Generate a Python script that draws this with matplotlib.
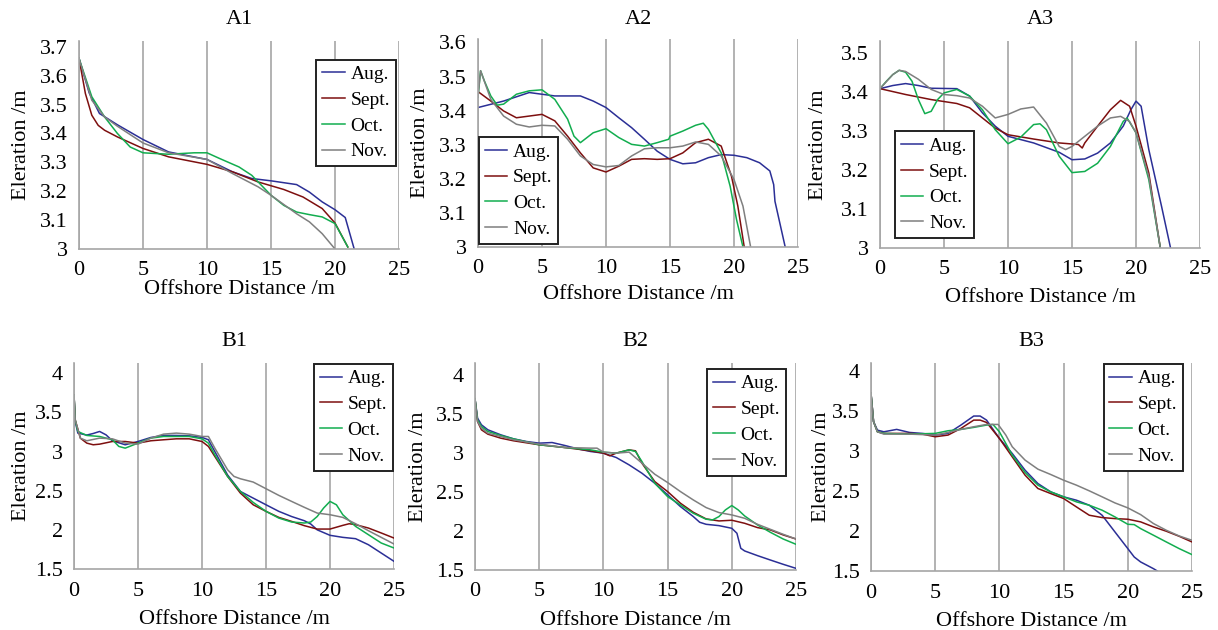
"""Seasonal beach profiles at six transects (A1-A3, B1-B3), Aug.-Nov."""
import matplotlib
matplotlib.use("Agg")
import matplotlib.pyplot as plt
from matplotlib.ticker import FuncFormatter

plt.rcParams["font.family"] = ["Liberation Serif", "DejaVu Serif"]
plt.rcParams["font.size"] = 16

MONTHS = ["Aug.", "Sept.", "Oct.", "Nov."]
COLORS = ["#2b2f96", "#7d0f0f", "#12ad4f", "#7f7f7f"]

# ---- A1 ----
a1_aug_x = [0, 0.8, 1.6, 3, 5, 7, 10, 12, 13.5, 15, 17, 18, 19, 20, 20.8, 21.5]
a1_aug_y = [3.66, 3.54, 3.469, 3.43, 3.379, 3.336, 3.31, 3.267, 3.244, 3.236, 3.223, 3.197, 3.163, 3.136, 3.109, 3.0]
a1_sep_x = [0, 0.5, 1, 1.5, 2, 3, 5, 7, 10, 12, 14, 16, 17.5, 19, 20, 21]
a1_sep_y = [3.66, 3.538, 3.463, 3.428, 3.411, 3.388, 3.348, 3.319, 3.293, 3.267, 3.232, 3.206, 3.18, 3.14, 3.09, 3.007]
a1_oct_x = [0, 1, 2, 3, 4, 5, 7, 9, 10, 11, 12.5, 13.5, 15, 16, 17, 18, 19, 20, 21]
a1_oct_y = [3.66, 3.527, 3.457, 3.4, 3.353, 3.333, 3.328, 3.333, 3.333, 3.313, 3.284, 3.255, 3.186, 3.151, 3.128, 3.119, 3.111, 3.088, 3.007]
a1_nov_x = [0, 1, 2, 3, 5, 7, 10, 12, 14, 15, 17, 18, 19, 20]
a1_nov_y = [3.66, 3.515, 3.457, 3.425, 3.367, 3.333, 3.31, 3.261, 3.215, 3.186, 3.122, 3.094, 3.053, 3.0]

# ---- A2 ----
a2_aug_x = [0, 2, 4, 5, 6, 8, 9, 10, 11, 12, 13, 14, 15, 16, 17, 18, 19, 20, 21, 22, 22.8, 23.1, 23.2, 24]
a2_aug_y = [3.409, 3.428, 3.453, 3.448, 3.443, 3.443, 3.428, 3.409, 3.379, 3.35, 3.316, 3.281, 3.257, 3.244, 3.247, 3.262, 3.271, 3.269, 3.262, 3.247, 3.223, 3.183, 3.134, 3.0]
a2_sep_x = [0.1, 1, 2, 3, 4, 5, 6, 7, 8, 9, 10, 11, 12, 13, 14, 15, 16, 17, 18, 19, 19.8, 20.3, 20.8]
a2_sep_y = [3.453, 3.428, 3.399, 3.379, 3.384, 3.389, 3.37, 3.325, 3.276, 3.232, 3.22, 3.237, 3.257, 3.259, 3.257, 3.259, 3.276, 3.306, 3.316, 3.296, 3.208, 3.12, 3.0]
a2_oct_x = [0, 0.2, 0.5, 1, 1.5, 2, 3, 4, 5, 6, 7, 7.5, 8, 9, 10, 11, 12, 13, 14, 14.9, 15, 16, 17, 17.6, 18, 19, 19.7, 20.2, 20.7]
a2_oct_y = [3.44, 3.517, 3.487, 3.443, 3.416, 3.419, 3.448, 3.458, 3.461, 3.433, 3.375, 3.325, 3.306, 3.335, 3.347, 3.321, 3.301, 3.296, 3.306, 3.316, 3.325, 3.34, 3.357, 3.363, 3.345, 3.276, 3.178, 3.08, 3.0]
a2_nov_x = [0, 0.2, 1, 2, 3, 4, 5, 6, 7, 8, 9, 10, 11, 12, 13, 14, 15, 16, 17, 18, 19, 20, 20.7, 21.3]
a2_nov_y = [3.44, 3.517, 3.433, 3.384, 3.36, 3.352, 3.357, 3.355, 3.316, 3.267, 3.242, 3.235, 3.239, 3.267, 3.288, 3.291, 3.291, 3.296, 3.308, 3.301, 3.267, 3.198, 3.12, 3.0]

# ---- A3 ----
a3_aug_x = [0, 1, 2, 3, 4, 6, 7, 8, 9, 10, 12, 14, 15, 16, 17, 18, 19, 19.6, 20, 20.4, 21, 22, 22.7]
a3_aug_y = [3.408, 3.416, 3.421, 3.416, 3.409, 3.408, 3.389, 3.346, 3.312, 3.286, 3.269, 3.245, 3.226, 3.228, 3.243, 3.269, 3.312, 3.354, 3.376, 3.363, 3.252, 3.106, 3.0]
a3_sep_x = [0, 2, 4, 6, 7, 8, 9, 10, 12, 14, 15.5, 15.8, 16, 17, 18, 18.8, 19.5, 20, 21, 21.9]
a3_sep_y = [3.408, 3.393, 3.38, 3.37, 3.359, 3.333, 3.307, 3.29, 3.279, 3.269, 3.265, 3.256, 3.269, 3.312, 3.354, 3.378, 3.363, 3.312, 3.192, 3.0]
a3_oct_x = [0, 0.5, 1, 1.5, 2, 2.5, 3, 3.5, 4, 4.5, 5, 6, 7, 8, 9, 10, 11, 12, 12.5, 13, 14, 15, 16, 17, 18, 19, 19.3, 20, 21, 21.9]
a3_oct_y = [3.408, 3.427, 3.444, 3.455, 3.45, 3.427, 3.38, 3.344, 3.35, 3.38, 3.397, 3.406, 3.389, 3.354, 3.303, 3.267, 3.284, 3.316, 3.318, 3.303, 3.235, 3.193, 3.196, 3.217, 3.26, 3.324, 3.333, 3.295, 3.175, 3.0]
a3_nov_x = [0, 1, 1.5, 2, 3, 4, 5, 6, 7, 8, 9, 10, 11, 12, 13, 14, 14.5, 15, 16, 17, 18, 18.8, 19.5, 20, 21, 21.9]
a3_nov_y = [3.408, 3.444, 3.455, 3.452, 3.432, 3.406, 3.393, 3.39, 3.384, 3.363, 3.333, 3.342, 3.356, 3.361, 3.32, 3.26, 3.252, 3.26, 3.286, 3.312, 3.333, 3.337, 3.324, 3.295, 3.183, 3.0]

# ---- B1 ----
b1_aug_x = [0, 0.1, 0.3, 1, 1.5, 2, 2.5, 3, 4, 5, 6, 7, 8, 9, 10, 10.5, 11, 12, 13, 14, 15, 16, 17, 18, 18.5, 19, 20, 21, 22, 23, 24, 25]
b1_aug_y = [3.72, 3.38, 3.235, 3.21, 3.23, 3.256, 3.213, 3.137, 3.086, 3.128, 3.179, 3.205, 3.205, 3.2, 3.18, 3.15, 3.0, 2.7, 2.49, 2.405, 2.32, 2.236, 2.17, 2.116, 2.074, 2.0, 1.93, 1.904, 1.887, 1.81, 1.704, 1.598]
b1_sep_x = [0, 0.1, 0.5, 1, 1.5, 2, 3, 4, 5, 6, 7, 8, 9, 10, 10.5, 11, 12, 13, 14, 15, 16, 17, 18, 19, 20, 21, 21.5, 22, 23, 24, 25]
b1_sep_y = [3.72, 3.4, 3.17, 3.107, 3.086, 3.094, 3.128, 3.128, 3.107, 3.137, 3.15, 3.162, 3.162, 3.128, 3.065, 2.937, 2.682, 2.469, 2.32, 2.236, 2.159, 2.108, 2.053, 2.01, 2.01, 2.057, 2.078, 2.066, 2.023, 1.96, 1.895]
b1_oct_x = [0, 0.1, 0.3, 1, 2, 3, 3.5, 4, 5, 6, 7, 8, 9, 10, 10.5, 11, 12, 13, 14, 15, 16, 17, 18, 18.5, 19, 19.5, 20, 20.5, 21, 22, 23, 24, 25]
b1_oct_y = [3.72, 3.4, 3.256, 3.205, 3.192, 3.15, 3.065, 3.043, 3.107, 3.171, 3.192, 3.192, 3.192, 3.162, 3.107, 2.958, 2.682, 2.49, 2.35, 2.236, 2.15, 2.1, 2.087, 2.1, 2.17, 2.278, 2.363, 2.32, 2.193, 2.044, 1.938, 1.832, 1.768]
b1_nov_x = [0, 0.1, 0.5, 1, 2, 3, 4, 5, 6, 7, 8, 9, 10, 10.5, 11, 12, 12.5, 13, 14, 15, 16, 17, 18, 19, 20, 21, 22, 23, 24, 25]
b1_nov_y = [3.72, 3.4, 3.17, 3.137, 3.171, 3.162, 3.107, 3.094, 3.171, 3.222, 3.235, 3.222, 3.192, 3.192, 3.043, 2.767, 2.682, 2.652, 2.61, 2.525, 2.44, 2.363, 2.287, 2.214, 2.193, 2.159, 2.078, 1.989, 1.904, 1.819]

# ---- B2 ----
b2_aug_x = [0, 0.2, 0.5, 1, 2, 3, 4, 5, 6, 7, 8, 9, 10, 11, 12, 13, 14, 15, 16, 17, 17.5, 18, 19, 20, 20.4, 20.7, 21, 22, 23, 24, 25]
b2_aug_y = [3.692, 3.444, 3.359, 3.295, 3.231, 3.179, 3.145, 3.124, 3.132, 3.094, 3.051, 3.017, 2.996, 2.94, 2.846, 2.739, 2.611, 2.462, 2.312, 2.184, 2.111, 2.085, 2.068, 2.034, 1.97, 1.778, 1.744, 1.684, 1.628, 1.573, 1.521]
b2_sep_x = [0, 0.2, 0.5, 1, 2, 3, 5, 7, 9, 10, 10.5, 11, 12, 12.5, 13, 14, 15, 16, 17, 18, 19, 20, 21, 22, 23, 24, 25]
b2_sep_y = [3.692, 3.4, 3.295, 3.239, 3.188, 3.154, 3.103, 3.068, 3.026, 2.996, 2.962, 2.996, 3.038, 3.026, 2.868, 2.632, 2.504, 2.355, 2.239, 2.154, 2.128, 2.137, 2.098, 2.043, 2.013, 1.949, 1.897]
b2_oct_x = [0, 0.2, 0.5, 1, 2, 3, 5, 7, 9, 10, 11, 11.5, 12, 12.5, 13, 14, 15, 16, 17, 18, 18.5, 19, 19.5, 20, 20.5, 21, 22, 23, 24, 25]
b2_oct_y = [3.692, 3.42, 3.338, 3.274, 3.222, 3.179, 3.103, 3.068, 3.038, 3.009, 2.996, 3.017, 3.038, 3.017, 2.889, 2.611, 2.44, 2.333, 2.226, 2.15, 2.141, 2.184, 2.269, 2.325, 2.269, 2.192, 2.077, 1.983, 1.897, 1.829]
b2_nov_x = [0, 0.2, 0.5, 1, 2, 3, 5, 7, 9, 9.5, 10, 11, 12, 13, 14, 15, 16, 17, 18, 19, 20, 21, 22, 23, 24, 25]
b2_nov_y = [3.692, 3.4, 3.316, 3.252, 3.209, 3.167, 3.111, 3.068, 3.06, 3.06, 3.009, 2.996, 3.009, 2.868, 2.726, 2.62, 2.504, 2.397, 2.299, 2.235, 2.205, 2.162, 2.085, 2.021, 1.957, 1.897]

# ---- B3 ----
b3_aug_x = [0, 0.2, 0.5, 1, 2, 3, 4, 5, 6, 7, 8, 8.5, 9, 10, 11, 12, 13, 14, 15, 16, 17, 18, 19, 20, 20.5, 21, 22, 22.3]
b3_aug_y = [3.72, 3.366, 3.261, 3.24, 3.27, 3.232, 3.22, 3.199, 3.22, 3.324, 3.437, 3.437, 3.386, 3.157, 2.969, 2.76, 2.593, 2.489, 2.427, 2.385, 2.322, 2.197, 1.988, 1.78, 1.675, 1.613, 1.529, 1.5]
b3_sep_x = [0, 0.2, 0.5, 1, 3, 4, 5, 6, 7, 8, 8.5, 9, 10, 11, 12, 13, 14, 15, 16, 17, 18, 19, 20, 21, 22, 23, 24, 25]
b3_sep_y = [3.72, 3.366, 3.24, 3.22, 3.22, 3.211, 3.178, 3.199, 3.282, 3.386, 3.386, 3.357, 3.157, 2.927, 2.698, 2.531, 2.468, 2.406, 2.301, 2.197, 2.168, 2.155, 2.147, 2.114, 2.051, 1.997, 1.934, 1.863]
b3_oct_x = [0, 0.2, 0.5, 1, 3, 5, 6, 7, 8, 9, 9.5, 10, 11, 12, 13, 14, 15, 16, 17, 18, 19, 20, 20.5, 21, 22, 23, 24, 25]
b3_oct_y = [3.72, 3.366, 3.24, 3.22, 3.211, 3.22, 3.253, 3.27, 3.295, 3.324, 3.332, 3.24, 2.948, 2.731, 2.573, 2.489, 2.427, 2.364, 2.322, 2.26, 2.176, 2.084, 2.08, 2.03, 1.947, 1.863, 1.78, 1.705]
b3_nov_x = [0, 0.2, 0.5, 1, 3, 5, 6, 7, 8, 9, 9.9, 10.5, 11, 12, 13, 14, 15, 16, 17, 18, 19, 20, 21, 22, 23, 24, 25]
b3_nov_y = [3.72, 3.366, 3.24, 3.211, 3.211, 3.199, 3.232, 3.27, 3.303, 3.332, 3.332, 3.199, 3.053, 2.886, 2.773, 2.706, 2.635, 2.573, 2.502, 2.427, 2.351, 2.289, 2.205, 2.093, 2.009, 1.938, 1.884]

W, H = 1218, 630
# name, series, (left, right, top, bottom) px, ylim, yticks, legend (loc, anchor),
# (ylabel x in axes coords, xlabel pad), title y px
PANELS = [
    ("A1", [(a1_aug_x, a1_aug_y), (a1_sep_x, a1_sep_y), (a1_oct_x, a1_oct_y), (a1_nov_x, a1_nov_y)],
     (79, 399, 41, 249), (3.0, 3.72), [3.0, 3.1, 3.2, 3.3, 3.4, 3.5, 3.6, 3.7],
     ("upper right", (0.99, 0.91)), (-0.15, 0), 20),
    ("A2", [(a2_aug_x, a2_aug_y), (a2_sep_x, a2_sep_y), (a2_oct_x, a2_oct_y), (a2_nov_x, a2_nov_y)],
     (478, 798, 39, 247), (3.0, 3.61), [3.0, 3.1, 3.2, 3.3, 3.4, 3.5, 3.6],
     ("lower left", (0.003, 0.015)), (-0.15, 5), 20),
    ("A3", [(a3_aug_x, a3_aug_y), (a3_sep_x, a3_sep_y), (a3_oct_x, a3_oct_y), (a3_nov_x, a3_nov_y)],
     (880, 1200, 41, 248), (3.0, 3.53), [3.0, 3.1, 3.2, 3.3, 3.4, 3.5],
     ("lower left", (0.047, 0.048)), (-0.1625, 6), 20),
    ("B1", [(b1_aug_x, b1_aug_y), (b1_sep_x, b1_sep_y), (b1_oct_x, b1_oct_y), (b1_nov_x, b1_nov_y)],
     (74, 394, 363, 569), (1.5, 4.13), [1.5, 2, 2.5, 3, 3.5, 4],
     ("upper right", (0.997, 0.995)), (-0.134, 7), 342),
    ("B2", [(b2_aug_x, b2_aug_y), (b2_sep_x, b2_sep_y), (b2_oct_x, b2_oct_y), (b2_nov_x, b2_nov_y)],
     (475, 796, 363, 570), (1.5, 4.15), [1.5, 2, 2.5, 3, 3.5, 4],
     ("upper right", (0.969, 0.971)), (-0.147, 7), 342),
    ("B3", [(b3_aug_x, b3_aug_y), (b3_sep_x, b3_sep_y), (b3_oct_x, b3_oct_y), (b3_nov_x, b3_nov_y)],
     (871, 1192, 363, 571), (1.5, 4.1), [1.5, 2, 2.5, 3, 3.5, 4],
     ("upper right", (0.972, 0.995)), (-0.125, 7), 342),
]

fig = plt.figure(figsize=(W / 100, H / 100), dpi=100)
for name, series, (l, r, t, b), ylim, yticks, (loc, anchor), (ylx, xpad), ty in PANELS:
    ax = fig.add_axes([l / W, 1 - b / H, (r - l) / W, (b - t) / H])
    for (x, y), c, m in zip(series, COLORS, MONTHS):
        ax.plot(x, y, color=c, lw=1.1, label=m)
    ax.set_xlim(0, 25)
    ax.set_ylim(*ylim)
    ax.set_xticks([0, 5, 10, 15, 20, 25])
    ax.set_yticks(yticks)
    ax.yaxis.set_major_formatter(FuncFormatter(lambda v, p: f"{v:g}"))
    ax.grid(axis="x", color="#a6a6a6", lw=1.2)
    ax.set_axisbelow(True)
    for s in ("top", "right"):
        ax.spines[s].set_visible(False)
    for s in ("left", "bottom"):
        ax.spines[s].set_color("#a6a6a6")
        ax.spines[s].set_linewidth(1.2)
    ax.tick_params(axis="x", length=0, labelsize=16, pad=9)
    ax.tick_params(axis="y", length=0, labelsize=16, pad=8)
    ax.set_xlabel("Offshore Distance /m", fontsize=16, labelpad=xpad)
    ax.set_ylabel("Eleration /m", fontsize=16)
    ax.yaxis.set_label_coords(ylx, 0.5)
    fig.text((l + r) / 2 / W, 1 - ty / H, name, fontsize=16, ha="center", va="center")
    leg = ax.legend(loc=loc, bbox_to_anchor=anchor, fancybox=False, framealpha=1,
                    edgecolor="#222222", fontsize=14, handlelength=1.15, handletextpad=0.3,
                    labelspacing=0.42, borderpad=0.3, borderaxespad=0)
    leg.get_frame().set_linewidth(1.4)

fig.savefig("out.png", dpi=100)
